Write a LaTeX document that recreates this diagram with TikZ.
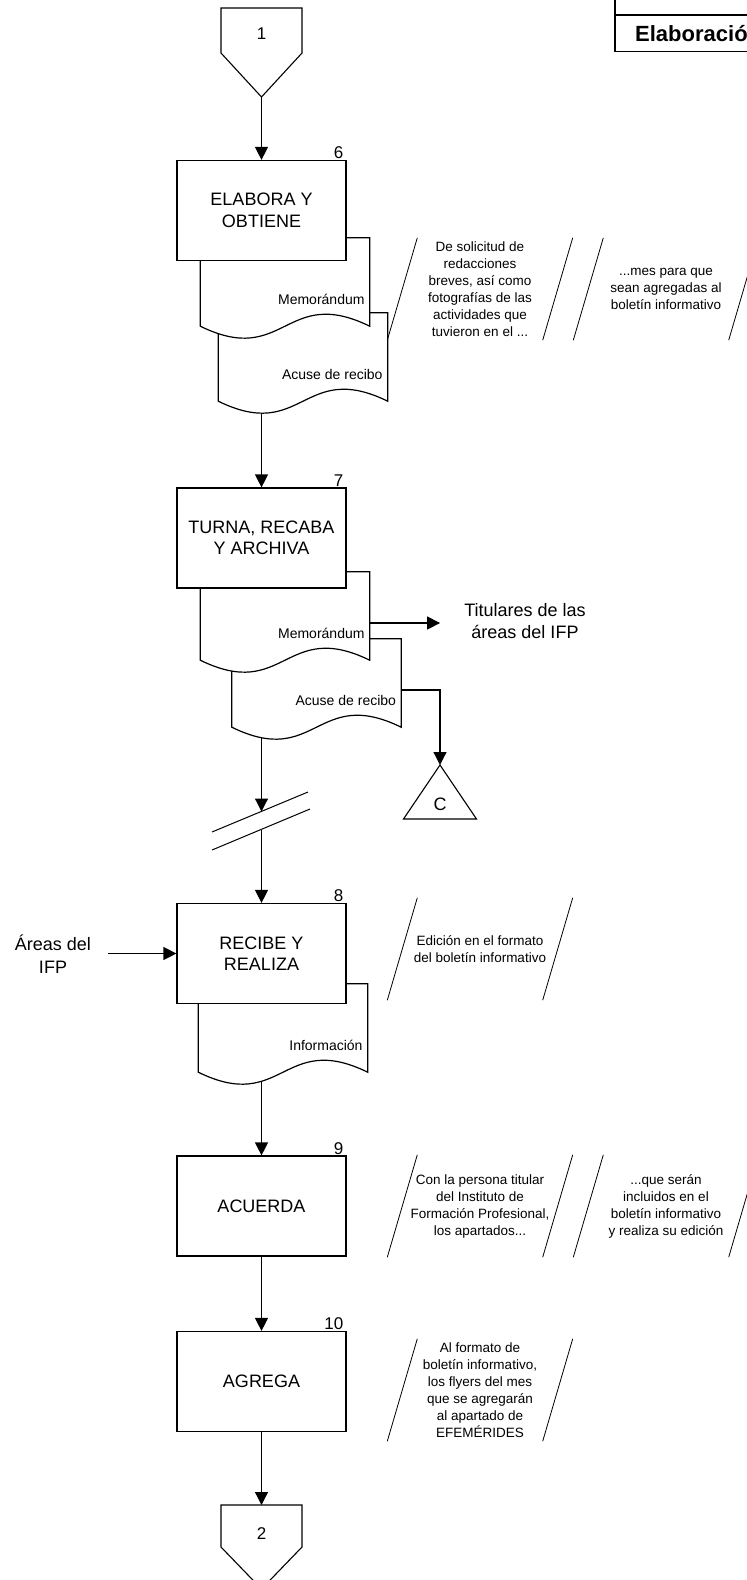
\documentclass[tikz,border=0pt]{standalone}
\usepackage{fontspec}
\setmainfont{Liberation Sans}
\usetikzlibrary{arrows.meta, calc}

\pgfdeclarelayer{back}
\pgfsetlayers{back,main}

% document symbol with a wavy bottom
\newcommand{\docpath}[1]{%
  \draw[docline] (#1.north west) -- (#1.north east) -- (#1.south east)
    .. controls ($(#1.south)+(0,-41.5)$) and ($(#1.south)+(0,41.5)$) .. (#1.south west) -- cycle;}
% the two slanted bars of an annotation
\newcommand{\notebars}[1]{%
  \draw[bar] ([xshift=15pt]#1.north west) -- ([xshift=-15pt]#1.south west);
  \draw[bar] ([xshift=15pt]#1.north east) -- ([xshift=-15pt]#1.south east);}

\begin{document}
\begin{tikzpicture}[x=1pt, y=-1pt,
    stepbox/.style={draw, fill=white, line width=1.2pt, minimum width=169pt, minimum height=100pt,
      inner sep=2pt, align=center, font=\fontsize{18}{21.5}\selectfont},
    docbox/.style={minimum width=169pt, minimum height=88pt, inner sep=0pt},
    docline/.style={draw, fill=white, line width=1.2pt},
    doctext/.style={anchor=east, inner sep=0pt, font=\fontsize{14}{16}\selectfont},
    num/.style={anchor=south east, inner sep=1pt, font=\fontsize{17}{20}\selectfont},
    note/.style={minimum width=155pt, minimum height=102pt, inner sep=0pt, align=center,
      font=\fontsize{13.5}{17}\selectfont},
    bar/.style={line width=0.8pt},
    lbl/.style={align=center, inner sep=0pt, font=\fontsize{18}{22.5}\selectfont},
    pagetext/.style={inner sep=0pt, font=\fontsize{17}{20}\selectfont},
    shapeline/.style={line width=1.1pt},
    brkline/.style={line width=1pt},
    hdr/.style={anchor=west, inner sep=0pt, font=\fontsize{22}{26}\selectfont\bfseries},
    flow/.style={line width=1.2pt, -{Triangle[length=13pt, width=13pt]}}]
\useasboundingbox (0,0) rectangle (747,1580);

% Header
\draw[line width=1.8pt] (615,-2) -- (615,51.5) -- (760,51.5);
\draw[line width=1.8pt] (615,15) -- (760,15);
\node[hdr] (hdr) at (635,34) {Elaboración};

% Connector 1
\coordinate (c1) at (261.5,8);
\draw[shapeline] (c1) ++(-40.5,0) -- ++(81,0) -- ++(0,45) -- ++(-40.5,44) coordinate (c1-tip)
    -- ++(-40.5,-44) -- cycle;
\node[pagetext] (c1-t) at (261.5,34) {1};

% Step 6
\node[docbox] (a6) at (303,357) {};
\docpath{a6}
\node[doctext] (a6-t) at ($(a6.east)+(-5,17)$) {Acuse de recibo};
\node[docbox] (m6) at (285,282) {};
\docpath{m6}
\node[doctext] (m6-t) at ($(m6.east)+(-5,17)$) {Memorándum};
\node[stepbox] (b6) at (261.5,210.5) {ELABORA Y\\OBTIENE};
\node[num] (n6) at ([xshift=-2pt]b6.north east) {6};
\node[note] (t6a) at (480,289) {De solicitud de\\redacciones\\breves, así como\\fotografías de las\\actividades que\\tuvieron en el ...};
\notebars{t6a}
\node[note] (t6b) at (666,289) {...mes para que\\sean agregadas al\\boletín informativo};
\notebars{t6b}

% Step 7
\node[docbox] (a7) at (316.5,683) {};
\docpath{a7}
\node[doctext] (a7-t) at ($(a7.east)+(-5,17)$) {Acuse de recibo};
\node[docbox] (m7) at (285,616) {};
\docpath{m7}
\node[doctext] (m7-t) at ($(m7.east)+(-5,17)$) {Memorándum};
\node[stepbox] (b7) at (261.5,538) {TURNA, RECABA\\Y ARCHIVA};
\node[num] (n7) at ([xshift=-2pt]b7.north east) {7};
\node[lbl] (tit) at (525,621) {Titulares de las\\áreas del IFP};

% Connector C
\coordinate (tc) at (440,765);
\draw[shapeline, fill=white] (tc) -- ++(36.5,54) -- ++(-73,0) -- cycle;
\node[lbl] (tc-t) at (440,804) {C};

% Break in the flow line
\coordinate (brk1) at (261.5,811.5);
\coordinate (brk2) at (261.5,829.5);
\draw[brkline] (212,832) -- (308,792);
\draw[brkline] (212,850) -- (310,809);

% Step 8
\node[docbox] (i8) at (283,1028) {};
\docpath{i8}
\node[doctext] (i8-t) at ($(i8.east)+(-5,17)$) {Información};
\node[stepbox] (b8) at (261.5,953.5) {RECIBE Y\\REALIZA};
\node[num] (n8) at ([xshift=-2pt]b8.north east) {8};
\node[lbl] (ar) at (53,954) {Áreas del\\IFP};
\node[note] (t8) at (480,949) {Edición en el formato\\del boletín informativo};
\notebars{t8}

% Step 9
\node[stepbox] (b9) at (261.5,1206) {ACUERDA};
\node[num] (n9) at ([xshift=-2pt]b9.north east) {9};
\node[note] (t9a) at (480,1206) {Con la persona titular\\del Instituto de\\Formación Profesional,\\los apartados...};
\notebars{t9a}
\node[note] (t9b) at (666,1206) {...que serán\\incluidos en el\\boletín informativo\\y realiza su edición};
\notebars{t9b}

% Step 10
\node[stepbox] (b10) at (261.5,1381.5) {AGREGA};
\node[num] (n10) at ([xshift=-2pt]b10.north east) {10};
\node[note] (t10) at (480,1390) {Al formato de\\boletín informativo,\\los flyers del mes\\que se agregarán\\al apartado de\\EFEMÉRIDES};
\notebars{t10}

% Connector 2
\coordinate (c2) at (261.5,1505);
\draw[shapeline] (c2) ++(-40.5,0) -- ++(81,0) -- ++(0,42) -- ++(-40.5,42) -- ++(-40.5,-42) -- cycle;
\node[pagetext] (c2-t) at (261.5,1534) {2};

% Flow lines
\begin{pgfonlayer}{back}
  \draw[flow] (c1-tip) -- (b6);
  \draw[flow] (a6.south -| b7.north) -- (b7);
  \draw[flow] ([yshift=-7pt]m7.east) -- ($(tit.west |- m7.east)+(-24,7)$);
  \draw[flow] ([yshift=-7pt]a7.east) -| (tc);
  \draw[flow] (a7.south -| b8.north) -- (brk1);
  \draw[flow] (brk2) -- (b8);
  \draw[flow] ($(ar.east |- b8.west)+(17,0)$) -- (b8.west);
  \draw[flow] (i8.south -| b9.north) -- (b9);
  \draw[flow] (b9) -- (b10);
  \draw[flow] (b10) -- (c2);
\end{pgfonlayer}
\end{tikzpicture}
\end{document}
